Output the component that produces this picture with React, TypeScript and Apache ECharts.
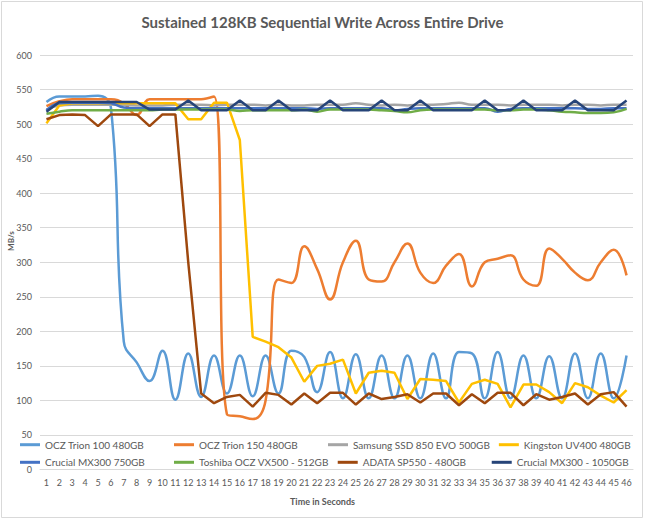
import React, { useEffect, useRef } from "react";
import * as echarts from "echarts";

const seconds = [
  "1", "2", "3", "4", "5", "6", "7", "8", "9", "10", "11", "12", "13", "14", "15", "16",
  "17", "18", "19", "20", "21", "22", "23", "24", "25", "26", "27", "28", "29", "30", "31",
  "32", "33", "34", "35", "36", "37", "38", "39", "40", "41", "42", "43", "44", "45", "46",
];

const yTicks = { min: 0, max: 600, interval: 50 };

const trion100 = [532, 540, 540, 540, 541, 524, 185, 155, 128, 172, 101, 168, 105, 165, 110, 165, 106, 165, 110, 172, 163, 112, 170, 103, 167, 103, 165, 103, 165, 103, 168, 103, 170, 168, 103, 170, 103, 165, 103, 164, 103, 168, 103, 168, 103, 165];
const trion150 = [526, 533, 536, 536, 536, 536, 530, 513, 536, 536, 536, 536, 536, 540, 80, 77, 73, 100, 275, 270, 323, 290, 246, 300, 331, 275, 272, 300, 327, 285, 270, 295, 312, 265, 300, 305, 310, 275, 266, 320, 305, 285, 274, 300, 318, 281];
const samsung850 = [521, 527, 528, 528, 528, 528, 528, 527, 527, 527, 528, 528, 528, 527, 528, 528, 528, 527, 528, 527, 527, 528, 528, 528, 530, 528, 527, 528, 527, 528, 528, 529, 531, 528, 528, 528, 527, 528, 528, 528, 527, 528, 528, 527, 528, 528];
const kingstonUV400 = [501, 527, 530, 530, 530, 530, 530, 530, 530, 530, 530, 507, 507, 531, 531, 477, 192, 185, 177, 162, 127, 150, 153, 159, 110, 140, 143, 140, 102, 131, 130, 128, 97, 124, 130, 124, 90, 123, 123, 112, 96, 125, 119, 107, 97, 115];
const mx300_750 = [520, 530, 531, 531, 531, 530, 524, 523, 523, 523, 523, 523, 523, 523, 523, 523, 523, 523, 523, 523, 523, 522, 523, 523, 523, 523, 523, 520, 522, 523, 523, 523, 523, 523, 523, 518, 522, 523, 523, 523, 523, 523, 522, 522, 523, 523];
const toshibaVX500 = [515, 518, 520, 520, 520, 520, 520, 520, 520, 521, 521, 521, 521, 521, 521, 519, 520, 520, 520, 520, 521, 518, 521, 521, 521, 521, 520, 519, 517, 520, 521, 521, 521, 521, 521, 520, 520, 521, 521, 520, 518, 517, 516, 516, 517, 522];
const adataSP550 = [507, 513, 514, 513, 497, 514, 514, 514, 497, 514, 514, 300, 110, 96, 105, 108, 91, 111, 108, 94, 110, 96, 111, 111, 94, 110, 102, 105, 109, 97, 110, 110, 93, 109, 96, 111, 111, 93, 109, 101, 105, 110, 94, 109, 112, 91];
const mx300_1050 = [518, 532, 532, 532, 532, 532, 532, 532, 521, 521, 521, 534, 520, 520, 520, 534, 520, 520, 534, 520, 520, 520, 534, 520, 520, 520, 534, 520, 520, 534, 520, 520, 520, 520, 534, 520, 520, 534, 520, 520, 520, 534, 520, 520, 520, 534];

const seriesNames = [
  "OCZ Trion 100 480GB",
  "OCZ Trion 150 480GB",
  "Samsung SSD 850 EVO 500GB",
  "Kingston UV400 480GB",
  "Crucial MX300 750GB",
  "Toshiba OCZ VX500 - 512GB",
  "ADATA SP550 - 480GB",
  "Crucial MX300 - 1050GB",
];
const seriesData = [trion100, trion150, samsung850, kingstonUV400, mx300_750, toshibaVX500, adataSP550, mx300_1050];
const seriesColors = ["#5B9BD5", "#ED7D31", "#A5A5A5", "#FFC000", "#4472C4", "#70AD47", "#9E480E", "#264478"];
const seriesSmooth = [true, true, true, false, true, true, false, false];

const FONT = "Lato, 'Open Sans', sans-serif";
const TXT = "#595959";

export default function App() {
  const ref = useRef<HTMLDivElement>(null);
  useEffect(() => {
    if (!ref.current) return;
    const chart = echarts.init(ref.current, undefined, { renderer: "svg" });
    const legendCommon = {
      left: 20,
      padding: 0,
      itemWidth: 20,
      itemHeight: 3,
      itemGap: 9,
      icon: "rect",
      textStyle: { color: TXT, fontSize: 10, fontFamily: FONT, width: 120, lineHeight: 12 },
    };
    chart.setOption({
      animation: false,
      backgroundColor: "#ffffff",
      title: {
        text: "Sustained 128KB Sequential Write Across Entire Drive",
        left: "center",
        top: 9,
        textStyle: { color: TXT, fontSize: 15, fontWeight: "bold", fontFamily: FONT },
      },
      grid: { left: 40, right: 12, top: 55, bottom: 50.5, containLabel: false },
      legend: [
        { ...legendCommon, top: 438.7, data: seriesNames.slice(0, 4) },
        { ...legendCommon, top: 456.3, data: seriesNames.slice(4, 8) },
      ],
      xAxis: {
        type: "category",
        data: seconds,
        boundaryGap: true,
        axisLine: { show: true, lineStyle: { color: "#d9d9d9", width: 1 } },
        axisTick: { show: false },
        axisLabel: { interval: 0, color: TXT, fontSize: 9, fontFamily: FONT, margin: 8 },
      },
      yAxis: {
        type: "value",
        min: yTicks.min,
        max: yTicks.max,
        interval: yTicks.interval,
        axisLine: { show: false },
        axisTick: { show: false },
        axisLabel: { color: TXT, fontSize: 9, fontFamily: FONT, margin: 8 },
        splitLine: { lineStyle: { color: "#d9d9d9", width: 1 } },
      },
      graphic: [
        {
          type: "rect",
          z: -10,
          shape: { x: 1.5, y: 1.5, width: 641, height: 516 },
          style: { fill: "transparent", stroke: "#d9d9d9", lineWidth: 1 },
        },
        {
          type: "text",
          x: 322.5,
          y: 501.5,
          style: {
            text: "Time in Seconds",
            fill: TXT,
            font: `bold 9px ${FONT}`,
            textAlign: "center",
            textVerticalAlign: "middle",
          },
        },
        {
          type: "text",
          x: 10.5,
          y: 241,
          rotation: Math.PI / 2,
          style: {
            text: "MB/s",
            fill: TXT,
            font: `bold 8px ${FONT}`,
            textAlign: "center",
            textVerticalAlign: "middle",
          },
        },
      ],
      series: seriesNames.map((name, i) => ({
        name,
        type: "line",
        data: seriesData[i],
        smooth: seriesSmooth[i] ? 0.45 : false,
        showSymbol: false,
        symbol: "none",
        lineStyle: { color: seriesColors[i], width: 2.5 },
        itemStyle: { color: seriesColors[i] },
        z: 2 + i,
      })),
    });
    return () => chart.dispose();
  }, []);
  return (
    <div
      ref={ref}
      style={{ position: "absolute", left: 0, top: 0, width: 645, height: 520 }}
    />
  );
}
